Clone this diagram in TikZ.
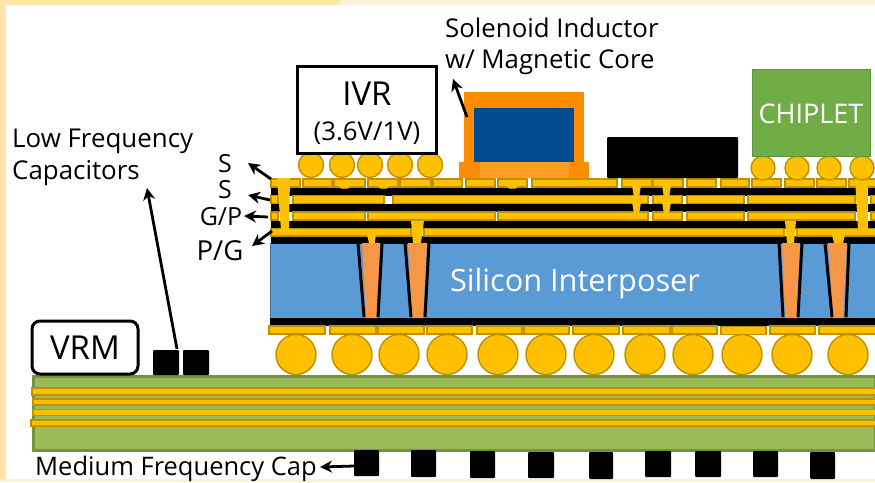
\documentclass[tikz,border=0pt]{standalone}
\usepackage{fontspec}
\setmainfont{Open Sans}
\usetikzlibrary{arrows.meta}
\definecolor{gold}{HTML}{FFC000}
\definecolor{goldline}{HTML}{BF9000}
\definecolor{cream}{HTML}{FFE5A8}
\definecolor{creamlight}{HTML}{FFF2D4}
\definecolor{siblue}{HTML}{5B9BD5}
\definecolor{siline}{HTML}{41719C}
\definecolor{tsv}{HTML}{F79646}
\definecolor{board}{HTML}{9BBB59}
\definecolor{boardline}{HTML}{76923C}
\definecolor{coil}{HTML}{FF8C00}
\definecolor{coillight}{HTML}{FF9E22}
\definecolor{core}{HTML}{004A8F}
\definecolor{chipgreen}{HTML}{70AD47}
\tikzset{
  goldbar/.style={fill=gold,draw=goldline,line width=1.1pt},
  goldvia/.style={fill=gold,draw=none},
  ball/.style={circle,fill=gold,draw=goldline,line width=1.4pt,inner sep=0pt,minimum size=#1},
  blackbar/.style={fill=black,draw=none},
  capbox/.style={fill=black,draw=none,rounded corners=1pt},
  callout/.style={-{Stealth[length=12pt,width=12pt]},line width=2.8pt,black},
  txt/.style={inner sep=0pt,font=\fontsize{#1}{#1}\selectfont},
  tsvside/.style={black,line width=3pt},
}
\begin{document}
\begin{tikzpicture}[x=1pt,y=-1pt]
\useasboundingbox (0,0) rectangle (875,482);
\fill[white] (0,0) rectangle (875,482);
\fill[creamlight] (0,0) rectangle (875,5);
\fill[cream] (0,0) rectangle (340,5);
\fill[cream] (0,0) rectangle (6,482);
\fill[creamlight] (0,479) rectangle (875,482);

% interposer
\fill[siline] (270,243) rectangle (875,319);
\fill[siblue] (271,244) rectangle (875,318);
\foreach \y in {188,204,221,236} \fill[blackbar] (271,\y) rectangle (875,\y+7.5);
\fill[blackbar] (270,318) rectangle (875,326);

% through-silicon vias
\foreach \a/\b/\c/\d/\e/\f/\g/\h in {
  362/381/366/377/358/364/382/378,
  408/427/412/423/405/411/429/425,
  782/800/785/797/779/783/802/798,
  828/847/833/843/825/832/849/846}{
  \fill[tsv] (\a,243) -- (\b,243) -- (\d,318) -- (\c,318) -- cycle;
  \draw[tsvside] (\e,243) -- (\f,317);
  \draw[tsvside] (\g,243) -- (\h,317);
}

% routing rows
\foreach \a/\b in {271/278,293/384,393/648,653/682,687/744,748/855,871/876}
  \draw[goldbar] (\a,195.5) rectangle (\b,203.5);
\foreach \a/\b in {271/278,293/365,368/495,498/648,653/682,687/744,748/855,871/876}
  \draw[goldbar] (\a,212) rectangle (\b,220);
\foreach \a/\b in {271/411,424/784,797/876}
  \draw[goldbar] (\a,228.5) rectangle (\b,236);
% top pads
\foreach \a/\b in {271/300,303/332,334/365,368/398,400/431,433/462,466/495,498/527,532/617,622/652,653/683,687/716,721/749,752/781,785/814,817/846,849/876}
  \draw[goldbar] (\a,179) rectangle (\b,187);

% vias
\fill[goldvia] (277,178) -- (290,178) -- (289,230) -- (281,230) -- cycle;
\fill[goldvia] (855,178) -- (868,178) -- (868,230) -- (858,230) -- cycle;
\fill[goldvia] (366,231) -- (376,231) -- (375,243) -- (369,243) -- cycle;
\fill[goldvia] (411,221) -- (424,221) -- (421,243) -- (413,243) -- cycle;
\fill[goldvia] (785,221) -- (796,221) -- (794,243) -- (787,243) -- cycle;
\fill[goldvia] (832,235) -- (845,235) -- (843,243) -- (834,243) -- cycle;
\foreach \a in {632,662}{
  \fill[goldvia] (\a,185) -- (\a+9,185) -- (\a+7,198) -- (\a+2,198) -- cycle;
  \fill[goldvia] (\a,202) -- (\a+9,202) -- (\a+7,214) -- (\a+2,214) -- cycle;
}
\foreach \a in {338,377,506}
  \fill[goldvia] (\a,185) -- (\a+13,185) -- (\a+10,188.5) -- (\a+3,188.5) -- cycle;

% top balls
\foreach \n/\x in {a/311,b/342,c/370,d/400,e/430}
  \node[ball=25pt] (ivrball\n) at (\x,165) {};
\foreach \n/\x in {a/763,b/797,c/829,d/862}
  \node[ball=24pt] (chipball\n) at (\x,168) {};
% bottom pads and balls
\foreach \a/\b in {269/325,330/376,378/424,427/472,477/522,524/569,573/619,623/670,672/717,770/815,819/876}
  \draw[goldbar] (\a,326) rectangle (\b,334);
\draw[goldbar] (721,326.5) rectangle (766,334.5);
\foreach \x in {296,352,399,447,498,546,594,645,693,742,792,848}
  \node[ball=40pt] at (\x,354.5) {};

% inductor
\fill[coil] (464,92) rectangle (584,162);
\fill[core] (474,108) rectangle (574,162);
\fill[coillight] (459,162) rectangle (589,178);
\fill[coil] (459,162) rectangle (480,178);
\fill[coil] (569,162) rectangle (589,178);

% black die and chiplet
\node[fill=black,draw=none,minimum width=131pt,minimum height=41pt,inner sep=0pt,rounded corners=1pt] (die) at (672.5,157.5) {};
\node[fill=chipgreen,draw=chipgreen!85!black,line width=1pt,minimum width=118pt,minimum height=87pt,inner sep=0pt] (chiplet) at (811,112.5) {};
\node[txt=27,text=white] (chiplabel) at (811,113.5) {CHIPLET};

% IVR
\draw[line width=3pt,fill=white] (297,66) rectangle (436,153);
\node[txt=33] (ivr) at (367,94) {IVR};
\node[txt=25.8] (ivrv) at (367,133) {(3.6V/1V)};

% board
\draw[fill=board,draw=boardline,line width=3pt] (33,376) rectangle (875,450);
\draw[goldbar,line width=1.5pt] (32,388) rectangle (876,395);
\draw[goldbar,line width=1.5pt] (33,399) rectangle (876,405);
\draw[goldbar,line width=1.5pt] (33,409.5) rectangle (876,415.5);
\draw[goldbar,line width=1.5pt] (31,420) rectangle (876,426);

% VRM and capacitors
\node[draw,line width=3pt,rounded corners=8pt,fill=white,minimum width=106pt,minimum height=53pt,inner sep=0pt] (vrm) at (85,347.5) {};
\node[txt=33] (vrmlabel) at (85,348) {VRM};
\draw[capbox] (153,350) rectangle (179,375);
\draw[capbox] (183,350) rectangle (209,375);
\foreach \a/\b/\c/\d in {354/379/450/476,411/436/450/477,470/495/451/478,528/554/452/478,589/613/452/479,645/671/451/477,695/721/451/477,753/778/451/477,810/835/452/479}
  \draw[capbox] (\a,\c) rectangle (\b,\d);

% labels
\node[txt=25.8,anchor=west] (solA) at (445,28) {Solenoid Inductor};
\node[txt=25.8,anchor=west] (solB) at (445,62.5) {w/ Magnetic Core};
\node[txt=25.9,anchor=west] (lowA) at (12,141) {Low Frequency};
\node[txt=25.9,anchor=west] (lowB) at (12,173) {Capacitors};
\node[txt=25.5,anchor=west] (med) at (35,469) {Medium Frequency Cap};
\node[txt=30.7,text=white] (si) at (575,284) {Silicon Interposer};
\node[txt=25] (s1) at (225,164) {S};
\node[txt=25] (s2) at (225,190) {S};
\node[txt=25] (gp) at (221,217) {G/P};
\node[txt=27.5] (pg) at (220,251) {P/G};

% callouts
\coordinate (cs1) at (271,179); \coordinate (hs1) at (248,163);
\coordinate (cs2) at (270,200); \coordinate (hs2) at (248,195);
\coordinate (cgp) at (268,217); \coordinate (hgp) at (244,216);
\coordinate (cpg) at (272,231); \coordinate (hpg) at (252,246);
\coordinate (csol) at (467,117); \coordinate (hsol) at (453,79);
\coordinate (clow) at (177,349); \coordinate (hlow) at (147,188);
\coordinate (cmed) at (354,466); \coordinate (hmed) at (320,467);
\draw[callout] (cs1) -- (hs1);
\draw[callout] (cs2) -- (hs2);
\draw[callout] (cgp) -- (hgp);
\draw[callout] (cpg) -- (hpg);
\draw[callout] (csol) -- (hsol);
\draw[callout] (clow) -- (hlow);
\draw[callout] (cmed) -- (hmed);
\end{tikzpicture}
\end{document}
